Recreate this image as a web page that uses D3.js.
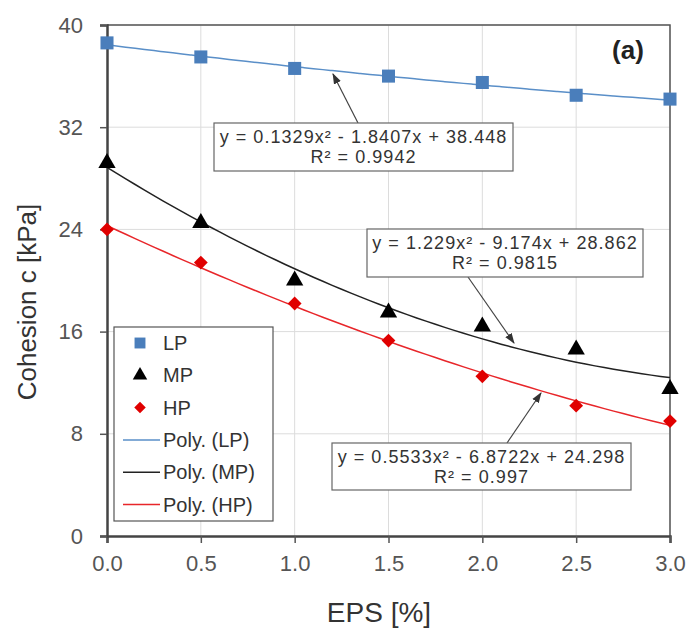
<!DOCTYPE html>
<html>
<head>
<meta charset="utf-8">
<script src="https://cdn.jsdelivr.net/npm/d3@7"></script>
<style>
  body { margin: 0; background: #fff; }
  text { font-family: "Liberation Sans", Arial, sans-serif; }
</style>
</head>
<body>
<div id="chart"></div>
<script>
const eps = [0, 0.5, 1.0, 1.5, 2.0, 2.5, 3.0];
const lpValues = [38.6, 37.5, 36.6, 36.0, 35.5, 34.5, 34.2];
const mpValues = [29.2, 24.5, 20.0, 17.5, 16.4, 14.6, 11.5];
const hpValues = [24.0, 21.4, 18.2, 15.3, 12.5, 10.2, 9.0];
const lpFit = [0.1329, -1.8407, 38.448];
const mpFit = [1.229, -9.174, 28.862];
const hpFit = [0.5533, -6.8722, 24.298];
const xTicks = [0, 0.5, 1.0, 1.5, 2.0, 2.5, 3.0];
const yTicks = [0, 8, 16, 24, 32, 40];
const eqLabels = [
  ["y = 0.1329x² - 1.8407x + 38.448", "R² = 0.9942"],
  ["y = 1.229x² - 9.174x + 28.862", "R² = 0.9815"],
  ["y = 0.5533x² - 6.8722x + 24.298", "R² = 0.997"]
];

const W = 691, H = 631;
const margin = { top: 25, right: 20, bottom: 95, left: 107 };
const width = 670 - margin.left;
const height = 536 - margin.top;

const svg = d3.select("#chart").append("svg")
  .attr("width", W).attr("height", H);
const g = svg.append("g").attr("transform", `translate(${margin.left},${margin.top})`);

const x = d3.scaleLinear().domain([0, 3]).range([0, width]);
const y = d3.scaleLinear().domain([0, 40]).range([height, 0]);

// grid
g.selectAll(".vgrid").data(xTicks.slice(1)).enter().append("line")
  .attr("x1", d => x(d)).attr("x2", d => x(d))
  .attr("y1", 0).attr("y2", height)
  .attr("stroke", "#dcdcdc").attr("stroke-width", 1);
g.selectAll(".hgrid").data(yTicks.slice(1)).enter().append("line")
  .attr("x1", 0).attr("x2", width)
  .attr("y1", d => y(d)).attr("y2", d => y(d))
  .attr("stroke", "#dcdcdc").attr("stroke-width", 1);

// frame top/right
g.append("path")
  .attr("d", `M0,0H${width}V${height}`)
  .attr("fill", "none").attr("stroke", "#555").attr("stroke-width", 1.5);

// axes
const xAxis = g.append("g").attr("transform", `translate(0,${height})`)
  .call(d3.axisBottom(x).tickValues(xTicks).tickFormat(d3.format(".1f")).tickSize(7).tickPadding(12));
const yAxis = g.append("g")
  .call(d3.axisLeft(y).tickValues(yTicks).tickSize(7).tickPadding(17));
[xAxis, yAxis].forEach(a => {
  a.select(".domain").attr("stroke", "#444").attr("stroke-width", 2.5);
  a.selectAll(".tick line").attr("stroke", "#555").attr("stroke-width", 1.5);
  a.selectAll("text").attr("font-size", 22).attr("fill", "#555")
    .attr("font-family", "Liberation Sans, Arial, sans-serif");
});

// trend curves
const fitLine = d3.line().x(d => x(d[0])).y(d => y(d[1])).curve(d3.curveMonotoneX);
const sampleX = d3.range(0, 3.0001, 0.05);
function curvePts(c) { return sampleX.map(t => [t, c[0] * t * t + c[1] * t + c[2]]); }
const series = [
  { name: "LP", vals: lpValues, fit: lpFit, line: "#5a8fc8", marker: "#4a7ebb", shape: d3.symbolSquare, size: 170, rot: 0 },
  { name: "MP", vals: mpValues, fit: mpFit, line: "#222", marker: "#000", shape: d3.symbolTriangle, size: 130, rot: 0 },
  { name: "HP", vals: hpValues, fit: hpFit, line: "#e8262a", marker: "#e00000", shape: d3.symbolSquare, size: 95, rot: 45 }
];
series.forEach(s => {
  g.append("path").datum(curvePts(s.fit))
    .attr("fill", "none").attr("stroke", s.line).attr("stroke-width", 1.5)
    .attr("d", fitLine);
});
series.forEach(s => {
  g.selectAll(".pt-" + s.name).data(s.vals).enter().append("path")
    .attr("transform", (d, i) => `translate(${x(eps[i])},${y(d)}) rotate(${s.rot})`)
    .attr("d", d3.symbol().type(s.shape).size(s.size))
    .attr("fill", s.marker);
});

// equation boxes with arrows
const boxes = [
  { x: 214, y: 123, w: 299, h: 48, ax0: 358, ay0: 123, ax1: 333, ay1: 74 },
  { x: 367, y: 229, w: 276, h: 48, ax0: 468, ay0: 277, ax1: 514, ay1: 343 },
  { x: 332, y: 443, w: 299, h: 47, ax0: 507, ay0: 443, ax1: 541, ay1: 393 }
];
svg.append("defs").append("marker")
  .attr("id", "arr").attr("viewBox", "0 0 10 10").attr("refX", 9).attr("refY", 5)
  .attr("markerWidth", 9).attr("markerHeight", 9).attr("orient", "auto")
  .append("path").attr("d", "M0,1.5L10,5L0,8.5z").attr("fill", "#333");
boxes.forEach((b, i) => {
  svg.append("line")
    .attr("x1", b.ax0).attr("y1", b.ay0).attr("x2", b.ax1).attr("y2", b.ay1)
    .attr("stroke", "#444").attr("stroke-width", 1.2).attr("marker-end", "url(#arr)");
  svg.append("rect").attr("x", b.x).attr("y", b.y).attr("width", b.w).attr("height", b.h)
    .attr("fill", "#fff").attr("stroke", "#666").attr("stroke-width", 1.2);
  eqLabels[i].forEach((t, j) => {
    svg.append("text").attr("x", b.x + b.w / 2).attr("y", b.y + 20 + j * 20)
      .attr("text-anchor", "middle").attr("font-size", 18).attr("letter-spacing", 1.05)
      .attr("fill", "#333").text(t);
  });
});

// legend
const legend = svg.append("g");
legend.append("rect").attr("x", 114).attr("y", 327).attr("width", 159).attr("height", 194)
  .attr("fill", "#fff").attr("stroke", "#555").attr("stroke-width", 1.2);
const legendItems = [
  { label: "LP", s: series[0], kind: "marker" },
  { label: "MP", s: series[1], kind: "marker" },
  { label: "HP", s: series[2], kind: "marker" },
  { label: "Poly. (LP)", s: series[0], kind: "line" },
  { label: "Poly. (MP)", s: series[1], kind: "line" },
  { label: "Poly. (HP)", s: series[2], kind: "line" }
];
legendItems.forEach((it, i) => {
  const ly = 343 + i * 32.3;
  if (it.kind === "marker") {
    legend.append("path").attr("transform", `translate(140,${ly}) rotate(${it.s.rot})`)
      .attr("d", d3.symbol().type(it.s.shape).size(it.s.size * 0.7))
      .attr("fill", it.s.marker);
  } else {
    legend.append("line").attr("x1", 123).attr("x2", 160).attr("y1", ly).attr("y2", ly)
      .attr("stroke", it.s.line).attr("stroke-width", 1.5);
  }
  legend.append("text").attr("x", 163).attr("y", ly + 7).attr("font-size", 20)
    .attr("fill", "#333").text(it.label);
});

// titles
svg.append("text").attr("transform", "translate(36,302) rotate(-90)")
  .attr("text-anchor", "middle").attr("font-size", 26).attr("fill", "#333")
  .text("Cohesion c [kPa]");
svg.append("text").attr("x", 379).attr("y", 622)
  .attr("text-anchor", "middle").attr("font-size", 28).attr("fill", "#333")
  .text("EPS [%]");
svg.append("text").attr("x", 628).attr("y", 59)
  .attr("text-anchor", "middle").attr("font-size", 26).attr("font-weight", "bold")
  .attr("fill", "#222").text("(a)");
</script>
</body>
</html>
